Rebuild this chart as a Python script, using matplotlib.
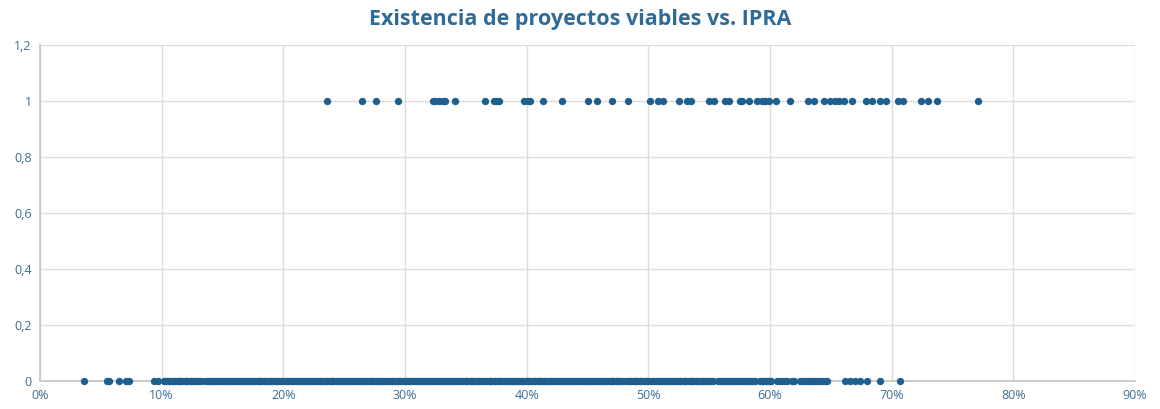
import matplotlib
matplotlib.use("Agg")
import matplotlib.pyplot as plt
from matplotlib.ticker import FuncFormatter

# IPRA (%) for municipalities with viable projects (y = 1)
ipra_viable = [23.6, 26.5, 27.6, 29.4, 32.3, 32.5, 32.8, 33.1, 33.3, 34.1,
               36.6, 37.3, 37.5, 37.7, 39.8, 40.1, 40.3, 41.3, 42.9, 45.0,
               45.8, 47.0, 48.3, 50.1, 50.8, 51.2, 52.5, 53.2, 53.5, 55.0,
               55.4, 56.3, 56.6, 57.5, 57.7, 58.3, 58.9, 59.3, 59.6, 59.9,
               60.5, 61.6, 63.1, 63.6, 64.4, 64.9, 65.3, 65.7, 66.1, 66.7,
               67.9, 68.4, 69.0, 69.5, 70.5, 70.9, 72.4, 73.0, 73.7, 77.1]

# IPRA (%) for municipalities without viable projects (y = 0)
ipra_no_viable = [
    3.6, 5.5, 5.7, 6.5, 7.1, 7.3, 9.4, 9.7,
    10.2, 10.3, 10.4, 10.6, 10.7, 10.9, 11.0, 11.1, 11.3, 11.4, 11.6, 11.7,
    11.9, 12.0, 12.1, 12.3, 12.4, 12.6, 12.7, 12.9, 13.0, 13.2,
    13.6, 13.7, 13.9,
    14.0, 14.1, 14.3, 14.4, 14.6, 14.7, 14.9, 15.0, 15.1, 15.3, 15.4, 15.6, 15.7, 15.9,
    16.0, 16.1, 16.3, 16.4, 16.6, 16.7, 16.9, 17.0, 17.1, 17.3, 17.4, 17.6, 17.7, 17.9,
    18.0, 18.1, 18.3, 18.4, 18.6, 18.7, 18.9, 19.0, 19.1, 19.3, 19.4, 19.6, 19.7, 19.9,
    20.0, 20.1, 20.3, 20.4, 20.6, 20.7, 20.9, 21.0, 21.1, 21.3, 21.4, 21.6, 21.7, 21.9,
    22.0, 22.1, 22.3, 22.4, 22.6, 22.7, 22.9, 23.0, 23.1, 23.3, 23.4, 23.6, 23.7, 23.9,
    24.0, 24.1, 24.3, 24.4, 24.6, 24.7, 24.9, 25.0, 25.1, 25.3, 25.4, 25.6, 25.7, 25.9,
    26.0, 26.1, 26.3, 26.4, 26.6, 26.7, 26.9, 27.0, 27.1, 27.3, 27.4, 27.6, 27.7, 27.9,
    28.0, 28.1, 28.3, 28.4, 28.6, 28.7, 28.9, 29.0, 29.1, 29.3, 29.4, 29.6, 29.7, 29.9,
    30.0, 30.1, 30.3, 30.4, 30.6, 30.7, 30.9, 31.0, 31.1, 31.3, 31.4, 31.6, 31.7, 31.9,
    32.0, 32.1, 32.3, 32.4, 32.6, 32.7, 32.9, 33.0, 33.1, 33.3, 33.4, 33.6, 33.7, 33.9,
    34.0, 34.1, 34.3, 34.4, 34.6, 34.7, 34.9, 35.0, 35.1, 35.3, 35.4, 35.6, 35.7, 35.9,
    36.0, 36.1, 36.3, 36.4, 36.6, 36.7, 36.9, 37.0, 37.1, 37.3, 37.4, 37.6, 37.7, 37.9,
    38.0, 38.1, 38.3, 38.4, 38.6, 38.7, 38.9, 39.0, 39.1, 39.3, 39.4, 39.6, 39.7, 39.9,
    40.0, 40.1, 40.3, 40.4, 40.6, 40.7, 40.9, 41.0, 41.1, 41.3, 41.4, 41.6, 41.7, 41.9,
    42.0, 42.1, 42.3, 42.4, 42.6, 42.7, 42.9, 43.0, 43.1, 43.3, 43.4, 43.6, 43.7, 43.9,
    44.0, 44.1, 44.3, 44.4, 44.6, 44.7, 44.9, 45.0, 45.1, 45.3, 45.4, 45.6, 45.7, 45.9,
    46.0, 46.1, 46.3, 46.4, 46.6, 46.7, 46.9, 47.0, 47.1, 47.3, 47.4, 47.6, 47.7, 47.9,
    48.2, 48.3, 48.4, 48.6, 48.7, 48.9, 49.0, 49.1, 49.3, 49.4, 49.6, 49.7, 49.9,
    50.0, 50.2,
    50.4, 50.6, 50.7, 50.9, 51.0, 51.1, 51.3, 51.4, 51.6, 51.7, 51.9,
    52.0, 52.1, 52.3, 52.4, 52.6, 52.7, 52.9, 53.0, 53.1, 53.3, 53.4, 53.6, 53.7, 53.9,
    54.0, 54.1, 54.3, 54.4, 54.6, 54.7, 54.9, 55.0, 55.1, 55.3,
    55.7, 55.9, 56.0, 56.1, 56.3, 56.4, 56.6, 56.7, 56.9, 57.0, 57.1, 57.3, 57.4,
    57.6, 57.7, 57.9, 58.0, 58.1, 58.3, 58.4, 58.6, 58.8,
    59.2, 59.3, 59.4, 59.6, 59.7, 59.9, 60.0, 60.1,
    60.6, 60.8, 61.0, 61.2, 61.4, 61.8, 62.0, 62.5, 62.7, 62.9, 63.1, 63.3,
    63.5, 63.7, 63.9, 64.1, 64.3, 64.5, 64.7,
    66.2, 66.6, 67.0, 67.4, 68.0, 69.0, 70.7]

x_ticks = [0, 10, 20, 30, 40, 50, 60, 70, 80, 90]
y_ticks = [0, 0.2, 0.4, 0.6, 0.8, 1.0, 1.2]

COLORS = {
    'dots': '#1D5F8E',
    'title': '#2F6B98',
    'ticks': '#3C6E93',
    'grid': '#DCDCDC',
    'spine': '#C4C4C4',
}

plt.rcParams['font.family'] = ['Open Sans', 'DejaVu Sans']

fig = plt.figure(figsize=(11.6, 4.09), dpi=100)
ax = fig.add_axes([0.0345, 0.0685, 0.944, 0.8215])

ax.scatter(ipra_viable, [1] * len(ipra_viable), s=28, color=COLORS['dots'],
           linewidths=0, zorder=3, clip_on=False)
ax.scatter(ipra_no_viable, [0] * len(ipra_no_viable), s=28, color=COLORS['dots'],
           linewidths=0, zorder=3, clip_on=False)

ax.set_xlim(0, 90)
ax.set_ylim(0, 1.2)
ax.set_xticks(x_ticks)
ax.set_yticks(y_ticks)
ax.xaxis.set_major_formatter(FuncFormatter(lambda v, p: f'{int(round(v))}%'))
ax.yaxis.set_major_formatter(
    FuncFormatter(lambda v, p: f'{v:g}'.replace('.', ',')))

ax.grid(True, color=COLORS['grid'], linewidth=1)
ax.set_axisbelow(True)
ax.tick_params(length=0, labelsize=9, colors=COLORS['ticks'], pad=6)

for side in ['top', 'right']:
    ax.spines[side].set_visible(False)
for side in ['left', 'bottom']:
    ax.spines[side].set_color(COLORS['spine'])
    ax.spines[side].set_linewidth(1.2)

fig.text(0.5, 0.953, 'Existencia de proyectos viables vs. IPRA', ha='center',
         va='center', fontsize=15.5, fontweight='bold', color=COLORS['title'])

plt.savefig('out.png', dpi=100, facecolor='white')
plt.close()
